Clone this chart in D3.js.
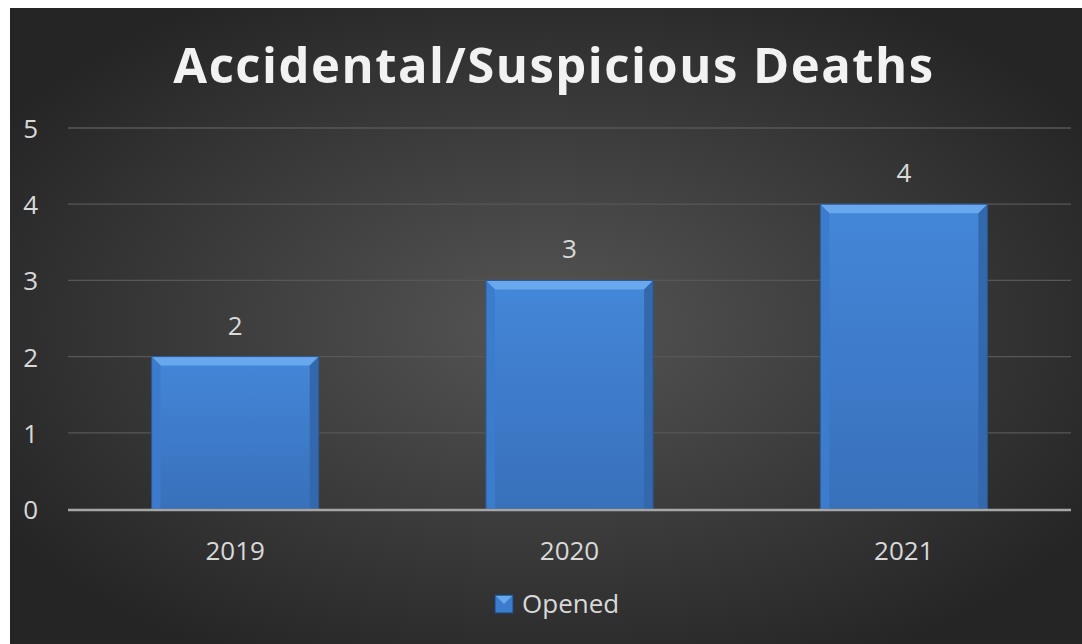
<!DOCTYPE html>
<html><head><meta charset="utf-8">
<script src="https://cdn.jsdelivr.net/npm/d3@7"></script>
<style>body{margin:0;background:#fff;}svg{display:block;}</style>
</head><body>
<script>
const categories = ["2019","2020","2021"];
const seriesName = "Opened";
const values = [2,3,4];
const yTicks = [0,1,2,3,4,5];
const title = "Accidental/Suspicious Deaths";

const W=1082,H=644;
const svg=d3.select("body").append("svg").attr("width",W).attr("height",H);
const defs=svg.append("defs");
const rg=defs.append("radialGradient").attr("id","bg").attr("cx","50%").attr("cy","50%").attr("r","60%");
rg.append("stop").attr("offset","0%").attr("stop-color","#555555");
rg.append("stop").attr("offset","100%").attr("stop-color","#252525");
const bg=defs.append("linearGradient").attr("id","bar").attr("x1",0).attr("x2",0).attr("y1",0).attr("y2",1);
bg.append("stop").attr("offset","0%").attr("stop-color","#4487d8");
bg.append("stop").attr("offset","100%").attr("stop-color","#3870bb");

svg.append("rect").attr("x",10).attr("y",8).attr("width",W-10).attr("height",H-8).attr("fill","url(#bg)");

const m={l:68,r:1071,t:128,b:509};
const x=d3.scaleBand().domain(categories).range([m.l,m.r]).paddingInner(0.5).paddingOuter(0.25);
const y=d3.scaleLinear().domain([0,5]).range([m.b,m.t]);
const FS=26, TXT="#d9d9d9", FF="Open Sans";

// gridlines
svg.append("g").selectAll("line").data(yTicks.filter(d=>d>0)).join("line")
 .attr("x1",m.l).attr("x2",m.r).attr("y1",d=>y(d)).attr("y2",d=>y(d))
 .attr("stroke","#575757").attr("stroke-width",1.3);

// y labels
svg.append("g").selectAll("text").data(yTicks).join("text")
 .attr("x",38).attr("y",d=>y(d)+10).attr("text-anchor","end")
 .attr("font-family",FF).attr("font-size",FS).attr("fill",TXT).text(d=>d);

// bars
const bw=x.bandwidth(), bev=9;
const g=svg.append("g").selectAll("g").data(values).join("g");
g.append("rect").attr("x",(d,i)=>x(categories[i])).attr("y",d=>y(d)).attr("width",bw).attr("height",d=>y(0)-y(d)).attr("fill","url(#bar)");
g.append("path").attr("d",(d,i)=>{const x0=x(categories[i]),y0=y(d);return `M${x0},${y0}L${x0+bw},${y0}L${x0+bw-bev},${y0+bev}L${x0+bev},${y0+bev}Z`;}).attr("fill","#6aa8ee");
g.append("path").attr("d",(d,i)=>{const x0=x(categories[i]),y0=y(d),y1=y(0);return `M${x0},${y0}L${x0+bev},${y0+bev}L${x0+bev},${y1}L${x0},${y1}Z`;}).attr("fill","#3c7ccc");
g.append("path").attr("d",(d,i)=>{const x0=x(categories[i])+bw,y0=y(d),y1=y(0);return `M${x0},${y0}L${x0-bev},${y0+bev}L${x0-bev},${y1}L${x0},${y1}Z`;}).attr("fill","#3368ad");
g.append("rect").attr("x",(d,i)=>x(categories[i])).attr("y",d=>y(d)).attr("width",bw).attr("height",d=>y(0)-y(d)).attr("fill","none").attr("stroke","#2a5590").attr("stroke-width",1);

// value labels
svg.append("g").selectAll("text").data(values).join("text")
 .attr("x",(d,i)=>x(categories[i])+bw/2).attr("y",d=>y(d)-22).attr("text-anchor","middle")
 .attr("font-family",FF).attr("font-size",FS).attr("fill",TXT).text(d=>d);

// baseline
svg.append("line").attr("x1",m.l).attr("x2",m.r).attr("y1",y(0)+1).attr("y2",y(0)+1).attr("stroke","#a6a6a6").attr("stroke-width",2.5);

// x labels
svg.append("g").selectAll("text").data(categories).join("text")
 .attr("x",d=>x(d)+bw/2).attr("y",560).attr("text-anchor","middle")
 .attr("font-family",FF).attr("font-size",FS).attr("fill",TXT).text(d=>d);

// title
svg.append("text").attr("x",554).attr("y",83).attr("text-anchor","middle")
 .attr("font-family",FF).attr("font-weight","bold").attr("font-size",49).attr("letter-spacing",1.5)
 .attr("fill","#f2f2f2").text(title);

// legend
const lg=svg.append("g").attr("transform","translate(495,595)");
lg.append("rect").attr("width",18).attr("height",18).attr("fill","#3c7ccc").attr("stroke","#1f4680");
lg.append("path").attr("d","M1,1L17,1L9,9Z").attr("fill","#6aa8ee");
lg.append("text").attr("x",27).attr("y",18).attr("font-family",FF).attr("font-size",FS).attr("fill",TXT).text(seriesName);
</script>
</body></html>
